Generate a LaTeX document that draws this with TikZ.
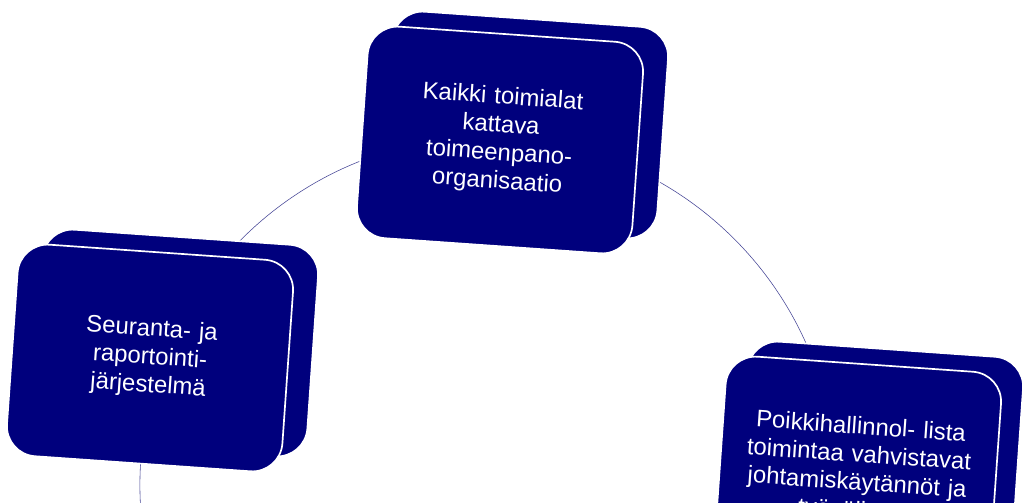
\documentclass[tikz,border=0pt]{standalone}
\usepackage{fontspec}
\setmainfont{Liberation Sans}
\definecolor{navy}{RGB}{0,0,125}
\definecolor{ring}{RGB}{70,70,150}
\begin{document}
\begin{tikzpicture}[x=0.025cm,y=-0.025cm,
  back/.style={shape=rectangle,rounded corners=0.75cm,fill=navy,draw=white,line width=1.2pt,
    minimum width=6.9cm,minimum height=5.3cm,rotate=-4},
  face/.style={back,text=white,align=center,font=\fontsize{17}{20}\selectfont,text width=5.4cm}]

	\useasboundingbox (0,0) rectangle (1024,503);
	\draw[ring, thin] (488,485) circle[radius=8.7cm];

	\node[back] (topback) at (525,125) {};
	\node[face] (top) at (500,140) {Kaikki toimialat\\kattava\\toimeenpano-\\organisaatio};

	\node[back] (leftback) at (175,343) {};
	\node[face] (left) at (150,358) {Seuranta- ja\\raportointi-\\järjestelmä};

	\node[back] (rightback) at (880,455) {};
	\node[face, text width=6.3cm] (right) at (858,470) {Poikkihallinnol- lista\\toimintaa vahvistavat\\johtamiskäytännöt ja\\työvälineet};

\end{tikzpicture}
\end{document}
